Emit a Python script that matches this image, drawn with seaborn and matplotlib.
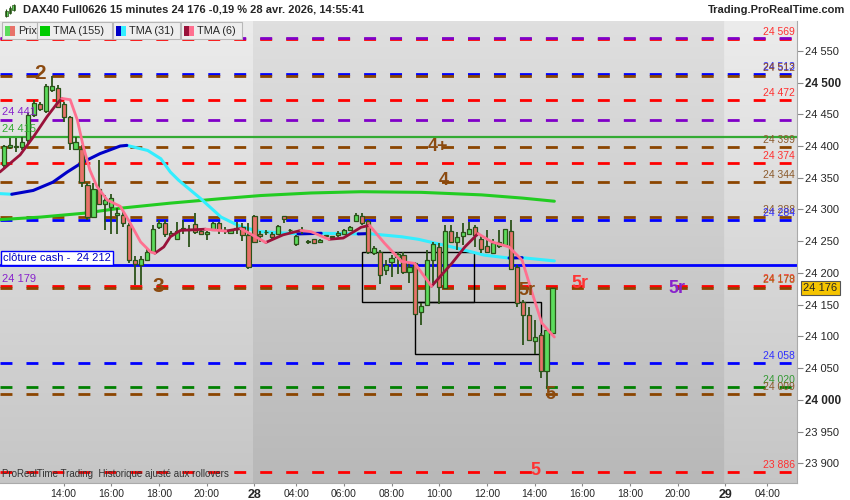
import matplotlib
matplotlib.use('Agg')
import matplotlib.pyplot as plt
from matplotlib.patches import Rectangle
import numpy as np
import pandas as pd
import seaborn as sns

# 15 min bars, bar 0 = 11:15 on the 27th, last bar = 14:45 on the 28th
opens = [24370, 24399, 24400, 24398, 24409, 24449, 24467, 24455, 24489, 24492,
         24467, 24445, 24396, 24396, 24338, 24288, 24333, 24308, 24304, 24291,
         24291, 24275, 24221, 24212, 24221, 24233, 24273, 24278, 24260, 24254,
         24270, 24268, 24277, 24266, 24262, 24268, 24278, 24268, 24263, 24270,
         24273, 24260, 24289, 24262, 24264, 24262, 24262, 24289, 24268, 24245,
         24267, 24249, 24253, 24248, 24258, 24256, 24260, 24262, 24268, 24282,
         24290, 24282, 24232, 24233, 24205, 24217, 24225, 24229, 24201, 24215,
         24138, 24149, 24220, 24241, 24177, 24266, 24248, 24259, 24262, 24273,
         24253, 24242, 24232, 24242, 24244, 24266, 24210, 24154, 24134, 24092,
         24102, 24046, 24105]
highs = [24402, 24412, 24412, 24414, 24452, 24472, 24470, 24497, 24510, 24496,
         24470, 24447, 24414, 24401, 24342, 24341, 24378, 24323, 24325, 24302,
         24299, 24278, 24226, 24226, 24239, 24275, 24284, 24284, 24266, 24281,
         24283, 24275, 24294, 24268, 24266, 24280, 24281, 24273, 24270, 24281,
         24278, 24278, 24291, 24266, 24268, 24265, 24276, 24290, 24270, 24260,
         24273, 24252, 24254, 24253, 24260, 24259, 24266, 24270, 24274, 24294,
         24294, 24284, 24242, 24236, 24220, 24228, 24233, 24233, 24215, 24217,
         24152, 24236, 24249, 24247, 24275, 24275, 24265, 24278, 24281, 24275,
         24260, 24268, 24254, 24268, 24270, 24284, 24212, 24157, 24147, 24126,
         24105, 24113, 24176]
lows = [24366, 24396, 24391, 24394, 24405, 24446, 24455, 24452, 24485, 24460,
        24438, 24394, 24395, 24336, 24283, 24286, 24307, 24268, 24262, 24262,
        24273, 24215, 24181, 24181, 24220, 24231, 24270, 24257, 24258, 24252,
        24262, 24241, 24262, 24260, 24252, 24266, 24261, 24262, 24261, 24262,
        24251, 24207, 24247, 24249, 24260, 24254, 24260, 24278, 24265, 24243,
        24262, 24245, 24246, 24247, 24256, 24254, 24257, 24260, 24266, 24280,
        24275, 24230, 24228, 24182, 24197, 24194, 24199, 24198, 24184, 24135,
        24118, 24148, 24184, 24151, 24176, 24247, 24236, 24244, 24260, 24241,
        24231, 24231, 24230, 24239, 24243, 24205, 24146, 24087, 24092, 24072,
        24034, 24018, 24105]
closes = [24400, 24401, 24398, 24407, 24449, 24467, 24458, 24494, 24494, 24462,
          24445, 24405, 24407, 24344, 24288, 24333, 24308, 24315, 24318, 24295,
          24278, 24220, 24214, 24222, 24233, 24270, 24278, 24262, 24263, 24266,
          24271, 24269, 24265, 24262, 24265, 24278, 24267, 24267, 24268, 24271,
          24260, 24209, 24249, 24259, 24264, 24256, 24274, 24285, 24267, 24258,
          24268, 24250, 24247, 24252, 24258, 24258, 24263, 24268, 24272, 24291,
          24278, 24233, 24240, 24197, 24212, 24223, 24230, 24202, 24209, 24135,
          24148, 24220, 24245, 24178, 24266, 24249, 24257, 24265, 24269, 24260,
          24237, 24233, 24247, 24248, 24269, 24207, 24153, 24134, 24095, 24099,
          24046, 24110, 24176]

# moving averages (bar index, price)
tma155_bar = [-0.7, 6.1, 13.3, 19.5, 27.9, 36.4, 43.1, 51.5, 59.9, 70.0, 80.1, 86.9, 92.3]
tma155_val = [24284, 24288, 24294, 24302, 24310, 24317, 24322, 24326, 24328, 24327, 24323, 24318, 24313]

tma31_bar = [-0.7, 1.3, 4.9, 8.2, 10.6, 13.3, 16.1, 19.5, 20.6, 24.1, 26.3, 27.9, 29.3, 33.0, 36.4,
             39.7, 43.1, 48.7, 49.3, 53.2, 59.4, 61.1, 66.7, 69.5, 75.1, 80.6, 84.7, 86.9, 92.3]
tma31_val = [24325, 24324, 24330, 24343, 24359, 24375, 24388, 24400, 24401, 24393, 24380, 24359, 24346, 24317,
             24288, 24273, 24265, 24262, 24261.5, 24262.5, 24261.5, 24262, 24257, 24253, 24241, 24228, 24223.5,
             24224, 24219]

tma6_bar = [-0.7, 2.7, 4.9, 7.2, 8.9, 9.7, 11.1, 12.3, 13.3, 14.4, 15.6, 17.3, 19.5, 21.2, 22.9, 24.6, 25.3,
            26.8, 27.9, 29.6, 33.8, 37.2, 39.7, 41.8, 43.9, 46.8, 49.8, 51.5, 54.5, 56.9, 59.9, 61.3,
            63.8, 66.7, 68.9, 71.7, 75.1, 77.3, 79.5, 81.8, 84.7, 86.9, 88.6, 90.2, 92.3]
tma6_val = [24359, 24386, 24414, 24446, 24467, 24475, 24473, 24441, 24399, 24362, 24336, 24315, 24305, 24278,
            24249, 24233, 24231, 24241, 24257, 24267, 24269, 24266, 24270, 24259, 24248, 24260, 24267, 24265,
            24253, 24255, 24272, 24275, 24247, 24218, 24215, 24179, 24215, 24241, 24262, 24249, 24241, 24220,
            24168, 24121, 24099]

# horizontal levels
level_values = [24569, 24571, 24513, 24511, 24472, 24441, 24399, 24374, 24344, 24288, 24284,
                24179, 24177, 24058, 24020, 24009, 23886]
level_colors = ['#ff0000', '#8000c8', '#0000ff', '#8b4500', '#ff0000', '#8000c8', '#8b4500', '#ff0000',
                '#8b4500', '#8b4500', '#0000ff', '#ff0000', '#8b4500', '#0000ff', '#008000', '#8b4500', '#ff0000']

right_labels = ['24 569', '24 513', '24 512', '24 472', '24 399', '24 374', '24 344', '24 288', '24 284',
                '24 179', '24 178', '24 058', '24 020', '24 009', '23 886']
right_label_levels = [24569, 24513, 24512, 24472, 24399, 24374, 24344, 24288, 24284,
                      24179, 24178, 24058, 24020, 24009, 23886]
right_label_colors = ['#ff3030', '#3030ff', '#8b4a20', '#ff3030', '#8b5a2b', '#ff3030', '#8b5a2b', '#8b5a2b',
                      '#3030ff', '#ff3030', '#b06010', '#3030ff', '#339933', '#8b5a2b', '#ff3030']

# wave annotations
wave_text = ['2', '3', '4+', '4', '5r', '5r', '5r', '5', '5']
wave_bar = [6.0, 25.8, 72.8, 73.8, 87.7, 96.6, 112.9, 91.7, 89.1]
wave_price = [24514, 24178, 24400, 24345, 24173, 24184, 24175, 24008, 23888]
wave_color = ['#8b4a10', '#8b4a10', '#8b4a10', '#8b4a10', '#8b4a10', '#ff3333', '#8822cc', '#8b4a10', '#ff3333']
wave_size = [15, 15, 13, 13, 13, 13, 13, 13, 13]

# boxes (bar from, bar to, price low, price high)
box_bars = [(60.0, 78.9), (69.0, 90.0)]
box_prices = [(24154, 24233), (24073, 24154)]

xtick_bars = [10, 18, 26, 34, 42, 49, 57, 65, 73, 81, 89, 97, 105, 113, 121, 128]
xtick_labels = ['14:00', '16:00', '18:00', '20:00', '28', '04:00', '06:00', '08:00', '10:00',
                '12:00', '14:00', '16:00', '18:00', '20:00', '29', '04:00']
ytick_values = [23900, 23950, 24000, 24050, 24100, 24150, 24200, 24250, 24300, 24350, 24400, 24450, 24500, 24550]

last_price = 24176
cash_close = 24212
day_breaks = [41.8, 120.9]


def segments(bars, vals):
    # split a line into rising / falling runs for the two-colour TMA
    rows = []
    run, prev = 0, None
    for i in range(len(bars) - 1):
        d = 'up' if vals[i + 1] >= vals[i] else 'down'
        if d != prev:
            run += 1
            prev = d
            rows.append((run, d, bars[i], vals[i]))
        rows.append((run, d, bars[i + 1], vals[i + 1]))
    return pd.DataFrame(rows, columns=['run', 'dir', 'bar', 'val'])


sns.set_style("white")
plt.rcParams['font.family'] = ['Liberation Sans', 'DejaVu Sans']
plt.rcParams['lines.scale_dashes'] = False

fig = plt.figure(figsize=(8.5, 5), dpi=100)
fig.patch.set_facecolor('#ffffff')
ax = fig.add_axes([0, 17 / 500, 797 / 850, 462 / 500])

x0, x1 = -0.671, 133.0
y0, y1 = 23869, 24597
ax.set_xlim(x0, x1)
ax.set_ylim(y0, y1)

# gradient background, darker band for the 28th
xs = np.linspace(x0, x1, 800)
fr = np.linspace(0, 1, 200)[:, None]
day28 = (xs > day_breaks[0]) & (xs < day_breaks[1])
top = np.where(day28, 0.875, 0.925)[None, :]
bot = np.where(day28, 0.722, 0.775)[None, :]
img = top + (bot - top) * fr
ax.imshow(np.dstack([img] * 3), extent=[x0, x1, y0, y1], aspect='auto', origin='upper', zorder=0)

dash = (0, (8.6, 10.1))
for lvl, col in zip(level_values, level_colors):
    ax.axhline(lvl, color=col, lw=2.0, ls=dash, zorder=2)
ax.axhline(24415, color='#33aa33', lw=1.6, zorder=2)
ax.axhline(cash_close, color='#0000ff', lw=2.0, zorder=2)

for (b0, b1), (p0, p1) in zip(box_bars, box_prices):
    ax.add_patch(Rectangle((b0, p0), b1 - b0, p1 - p0, fill=False, ec='black', lw=1.0, zorder=3))

# moving averages
sns.lineplot(x=tma155_bar, y=tma155_val, color='#22cc22', lw=2.2, ax=ax, zorder=6)
sns.lineplot(data=segments(tma31_bar, tma31_val), x='bar', y='val', hue='dir', units='run',
             estimator=None, sort=False, palette={'up': '#0000c8', 'down': '#33eeff'},
             lw=2.2, legend=False, ax=ax, zorder=6)

# candles
o, h, l, c = map(np.array, (opens, highs, lows, closes))
idx = np.arange(len(o))
up = c >= o
ax.vlines(idx, l, h, color='#2b5219', lw=1.3, zorder=7)
ax.bar(idx, np.maximum(np.abs(c - o), 1.2), bottom=np.minimum(o, c), width=0.7,
       color=np.where(up, '#5cdc5c', '#e8726a'), edgecolor='#2b5219', linewidth=0.9, zorder=8)

sns.lineplot(data=segments(tma6_bar, tma6_val), x='bar', y='val', hue='dir', units='run',
             estimator=None, sort=False, palette={'up': '#99123a', 'down': '#ff7090'},
             lw=2.0, legend=False, ax=ax, zorder=9)

for t, b, p, col, s in zip(wave_text, wave_bar, wave_price, wave_color, wave_size):
    ax.text(b, p, t, color=col, fontsize=s, fontweight='bold', ha='center', va='center', zorder=10)

ytr = ax.get_yaxis_transform()
for t, lvl, col in zip(right_labels, right_label_levels, right_label_colors):
    ax.text(0.9975, lvl + 3, t, color=col, fontsize=7.5, ha='right', va='bottom', transform=ytr, zorder=10)
ax.text(0.003, 24441 + 4, '24 441', color='#8822cc', fontsize=8, va='bottom', transform=ytr, zorder=10)
ax.text(0.003, 24415 + 4, '24 415', color='#33aa33', fontsize=8, va='bottom', transform=ytr, zorder=10)
ax.text(0.003, 24179 + 4, '24 179', color='#8822cc', fontsize=8, va='bottom', transform=ytr, zorder=10)
ax.text(0.004, cash_close + 4, 'clôture cash -  24 212', color='#0000c0', fontsize=8, va='bottom',
        transform=ytr, zorder=10,
        bbox=dict(boxstyle='square,pad=0.2', fc='white', ec='#0000ff', lw=1))
ax.text(0.003, 23869 + 6, 'ProRealTime Trading  Historique ajusté aux rollovers', color='#333333',
        fontsize=7, va='bottom', transform=ytr, zorder=10)

# axes
for s in ['top', 'left']:
    ax.spines[s].set_visible(False)
for s in ['right', 'bottom']:
    ax.spines[s].set_color('#aaaaaa')
ax.yaxis.tick_right()
ax.set_yticks(ytick_values)
ax.set_yticklabels([f"{v // 1000} {v % 1000:03d}" for v in ytick_values])
ax.tick_params(axis='y', direction='out', length=4, color='#888888', labelsize=8, pad=2, right=True)
for lab in ax.get_yticklabels():
    if lab.get_text() in ('24 500', '24 000'):
        lab.set_fontweight('bold')
        lab.set_fontsize(8.5)
ax.set_xticks(xtick_bars)
ax.set_xticklabels(xtick_labels)
ax.tick_params(axis='x', direction='out', length=2, color='#888888', labelsize=7.5, pad=2, bottom=True)
for lab in ax.get_xticklabels():
    if lab.get_text() in ('28', '29'):
        lab.set_fontweight('bold')
        lab.set_fontsize(9)
ax.set_xlabel('')
ax.set_ylabel('')

ax.text(1.008, last_price, '24 176', transform=ytr, fontsize=8, va='center', ha='left', zorder=11,
        clip_on=False, bbox=dict(boxstyle='square,pad=0.2', fc='#f5c400', ec='#555555', lw=0.8))

# header
fig.text(23 / 850, 1 - 10 / 500, 'DAX40 Full0626 15 minutes 24 176 -0,19 % 28 avr. 2026, 14:55:41',
         fontsize=8, fontweight='bold', va='center', ha='left')
fig.text(845 / 850, 1 - 10 / 500, 'Trading.ProRealTime.com', fontsize=8, fontweight='bold',
         va='center', ha='right')
icon = fig.add_axes([4 / 850, 1 - 19 / 500, 12 / 850, 16 / 500])
icon.vlines([0.2, 0.5, 0.8], [0.1, 0.3, 0.5], [0.6, 0.8, 0.95], color='#2b5219', lw=0.8)
icon.bar([0.2, 0.5, 0.8], [0.3, 0.3, 0.3], bottom=[0.2, 0.4, 0.55], width=0.22, color='#5cdc5c',
         edgecolor='#2b5219', lw=0.5)
icon.set_xlim(0, 1)
icon.set_ylim(0, 1)
icon.axis('off')

legend_boxes = [(2, 37), (37, 112), (113, 180), (181, 242)]
legend_names = ['Prix', 'TMA (155)', 'TMA (31)', 'TMA (6)']
legend_cols = [('#5cdc5c', '#e8726a'), ('#00cc00', '#00cc00'), ('#0000c8', '#33eeff'), ('#99123a', '#ff7090')]
for (bx0, bx1), name, (ca, cb) in zip(legend_boxes, legend_names, legend_cols):
    fig.patches.append(Rectangle((bx0 / 850, 1 - 39 / 500), (bx1 - bx0) / 850, 17 / 500,
                                 transform=fig.transFigure, fc='#eeeeee', ec='#b8b8b8', lw=0.8, zorder=20))
    fig.patches.append(Rectangle(((bx0 + 3) / 850, 1 - 36 / 500), 5 / 850, 10 / 500,
                                 transform=fig.transFigure, fc=ca, ec='none', zorder=21))
    fig.patches.append(Rectangle(((bx0 + 8) / 850, 1 - 36 / 500), 5 / 850, 10 / 500,
                                 transform=fig.transFigure, fc=cb, ec='none', zorder=21))
    fig.text((bx0 + 16) / 850, 1 - 31 / 500, name, fontsize=7.8, va='center', ha='left', zorder=22)

fig.savefig('out.png', dpi=100, facecolor='#ffffff')
